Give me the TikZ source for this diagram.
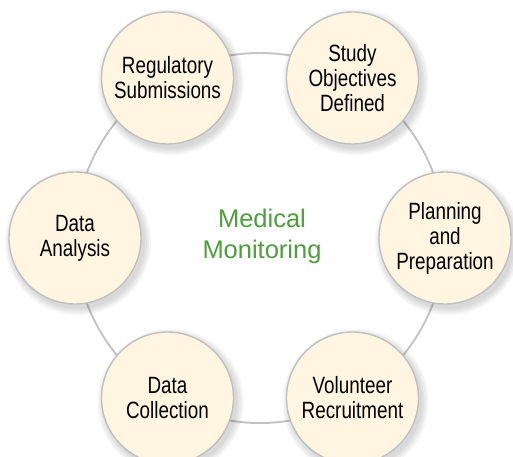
\documentclass[tikz,border=0pt]{standalone}
\usepackage{fontspec}
\setmainfont{Liberation Sans}
\newfontfamily\stagefont{Liberation Sans}[FakeStretch=0.8]
\usepackage{tikz}
\usepackage{xcolor}

\definecolor{ringgray}{RGB}{196,196,196}
\definecolor{rimgray}{RGB}{192,192,192}
\definecolor{cream}{RGB}{255,245,224}
\definecolor{monigreen}{RGB}{76,159,58}

\tikzset{
  stage/.style={circle, minimum size=2.64cm, inner sep=0pt, align=center,
    draw=rimgray, line width=0.8pt, fill=cream,
    font=\stagefont\fontsize{13.4}{14.2}\selectfont},
  blur/.style={fill=black, opacity=0.04}
}

\begin{document}
\begin{tikzpicture}
\useasboundingbox (0,0) rectangle (10.26,9.12);
\coordinate (hub) at (5.2,4.36);
\draw [ringgray, line width=1.1pt] (hub) circle (3.7);
\node [text=monigreen, align=center, font=\fontsize{14.5}{17.6}\selectfont] (title) at (5.24,4.4) {Medical\\Monitoring};
% soft shadows first
\foreach \x/\y in {8.9/4.36, 7.05/7.56, 3.35/7.56, 1.5/4.36, 3.35/1.16, 7.05/1.16}
  \foreach \r in {1.34,1.38,1.42,1.46}
    \fill [blur] (\x+0.06,\y-0.08) circle (\r);
\node [stage] (plan) at (8.9,4.36) {Planning\\and\\Preparation};
\node [stage] (study) at (7.05,7.56) {Study\\Objectives\\Defined};
\node [stage] (reg) at (3.35,7.56) {Regulatory\\Submissions};
\node [stage] (ana) at (1.5,4.36) {Data\\Analysis};
\node [stage] (coll) at (3.35,1.16) {Data\\Collection};
\node [stage] (vol) at (7.05,1.16) {Volunteer\\Recruitment};
\end{tikzpicture}
\end{document}
